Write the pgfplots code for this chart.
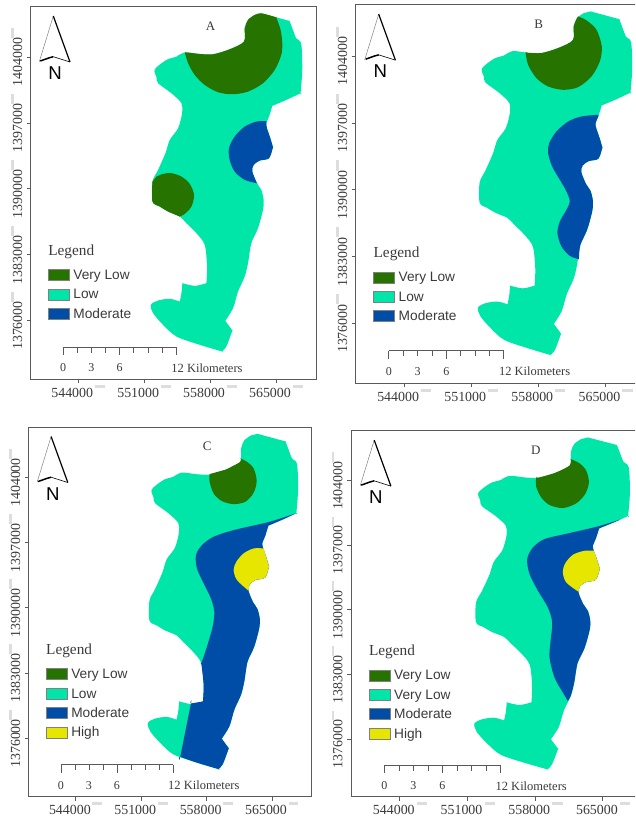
\documentclass[border=0pt]{standalone}
\usepackage{fontspec}
\setmainfont{Liberation Serif}
\newfontfamily\lsans{Liberation Sans}
\usepackage{pgfplots}
\usepackage{pgfplotstable}
\pgfplotsset{compat=1.18}
\definecolor{cVL}{HTML}{267300}
\definecolor{cLow}{HTML}{00E6A9}
\definecolor{cMod}{HTML}{004DA8}
\definecolor{cHigh}{HTML}{E6E600}
\definecolor{cTxt}{HTML}{3A3A3A}
\definecolor{cFrame}{HTML}{5A5A5A}
\definecolor{cBar}{HTML}{DDDDDD}

\pgfplotstableread{
x y
563440 1408680
565030 1408250
566450 1407860
566450 1407860
566800 1406910
567150 1406020
567680 1405420
567790 1402650
567610 1400170
567610 1400170
566090 1399460
564610 1398830
564610 1398830
564260 1397690
563970 1396980
564040 1396450
564400 1395390
564680 1394430
564680 1394430
564260 1393260
563270 1393010
562630 1392550
562490 1391840
562980 1390600
563440 1389900
563690 1388830
563620 1387770
563090 1385820
562380 1384220
562030 1382100
561680 1380680
560970 1379090
560440 1377310
559620 1375970
559620 1375970
560370 1374940
560370 1374940
559730 1373240
559270 1372710
559270 1372710
556900 1373420
554430 1374300
553010 1375540
551950 1376780
551710 1377670
552480 1378130
553720 1378310
554780 1378020
554780 1378020
554960 1378910
555060 1379970
555060 1379970
556370 1379690
557610 1379970
557610 1379970
557680 1381740
557430 1384050
556550 1385290
555490 1386350
554780 1387060
553540 1387590
552660 1388120
551880 1388650
551880 1390780
552480 1392020
553260 1393790
553720 1395210
554600 1396450
555030 1398050
554960 1399110
553900 1400170
552480 1401240
552310 1401870
552130 1402720
553370 1403720
554430 1404070
555310 1404530
556900 1404350
558320 1404320
560080 1404850
561600 1405670
561680 1407080
562030 1407970
562740 1408500
}\tOutline

% Panel A
\pgfplotstableread{
x y
555310 1404530
555670 1403360
556370 1402120
557430 1401060
558850 1400280
560440 1400070
562030 1400350
563620 1401240
564860 1402650
565560 1404250
565670 1405490
565490 1406910
565030 1408250
565030 1408250
563440 1408680
562740 1408500
562030 1407970
561680 1407080
561600 1405670
560080 1404850
558320 1404320
556900 1404350
}\tAvlOne
\pgfplotstableread{
x y
552310 1391310
553010 1391600
553900 1391670
554960 1391310
555840 1390530
556300 1389360
556020 1388120
555310 1387340
554780 1387060
554780 1387060
553540 1387590
552660 1388120
551880 1388650
551880 1390780
}\tAvlTwo
\pgfplotstableread{
x y
563970 1397200
562910 1397160
561680 1396630
560610 1395570
560010 1394330
560080 1393080
560610 1391840
561680 1390960
562980 1390600
562980 1390600
562490 1391840
562630 1392550
563270 1393010
564260 1393260
564680 1394430
564680 1394430
564400 1395390
564040 1396450
563970 1396980
}\tAmod

% Panel B
\pgfplotstableread{
x y
556660 1404420
556930 1403090
557800 1401700
559020 1400820
560590 1400470
562150 1400750
563540 1401870
564410 1403440
564620 1405010
564060 1406760
563020 1407740
562150 1408150
562150 1408150
562030 1407970
561680 1407080
561600 1405670
560080 1404850
558320 1404320
556900 1404350
}\tBvl
\pgfplotstableread{
x y
564240 1397860
562500 1397680
561110 1397160
559890 1396110
559130 1394890
559020 1393840
559440 1392440
560240 1391050
560930 1389830
561280 1388780
560930 1387910
560240 1386680
559990 1385460
560410 1384070
561280 1383090
562220 1382740
562220 1382740
562380 1384220
563090 1385820
563620 1387770
563690 1388830
563440 1389900
562980 1390600
562490 1391840
562630 1392550
563270 1393010
564260 1393260
564680 1394430
564680 1394430
564400 1395390
564040 1396450
563970 1396980
564260 1397690
}\tBmod

% Panel C
\pgfplotstableread{
x y
558320 1404360
558320 1403540
558750 1402280
559640 1401460
560890 1401140
562140 1401390
563030 1402350
563360 1403640
563030 1404970
562320 1405680
561610 1406040
561610 1406040
561600 1405670
560080 1404850
}\tCvl
\pgfplotstableread{
x y
567610 1400170
565890 1399600
564460 1399170
560890 1398350
558750 1397640
557500 1396740
556860 1395670
556960 1394240
557680 1392630
558460 1391020
558820 1389590
558640 1387980
558030 1385830
557430 1384050
557430 1384050
557680 1381740
557610 1379970
557610 1379970
556320 1379750
556320 1379750
555180 1374030
555180 1374030
556900 1373420
559270 1372710
559270 1372710
559730 1373240
560370 1374940
560370 1374940
559620 1375970
559620 1375970
560440 1377310
560970 1379090
561680 1380680
562030 1382100
562380 1384220
563090 1385820
563620 1387770
563690 1388830
563440 1389900
562980 1390600
562490 1391840
562630 1392550
563270 1393010
564260 1393260
564680 1394430
564680 1394430
564400 1395390
564040 1396450
563970 1396980
564260 1397690
564610 1398830
564610 1398830
566090 1399460
}\tCmod
\pgfplotstableread{
x y
564100 1396380
563030 1396380
561960 1395850
561180 1394950
560890 1394060
561250 1392990
562490 1391840
562490 1391840
562630 1392550
563270 1393010
564260 1393260
564680 1394430
564680 1394430
564400 1395390
}\tChigh

% Panel D
\pgfplotstableread{
x y
558100 1404360
558100 1403350
558620 1402190
559480 1401360
560860 1401030
562240 1401540
563170 1402550
563550 1403820
563270 1405090
562580 1405880
561650 1406350
561650 1406350
561600 1405670
560080 1404850
558320 1404320
}\tDvl
\pgfplotstableread{
x y
566830 1399800
564480 1399040
561380 1398280
558960 1397670
557760 1396760
557170 1395500
557410 1393870
558280 1392060
559310 1390250
559760 1388620
559590 1386630
559480 1384820
560000 1382650
560860 1381030
561380 1380120
561380 1380120
561680 1380680
562030 1382100
562380 1384220
563090 1385820
563620 1387770
563690 1388830
563440 1389900
562980 1390600
562490 1391840
562630 1392550
563270 1393010
564260 1393260
564680 1394430
564680 1394430
564400 1395390
564040 1396450
563970 1396980
564260 1397690
564610 1398830
564610 1398830
566090 1399460
}\tDmod
\pgfplotstableread{
x y
564070 1396400
563100 1396400
561900 1395970
561100 1395030
560860 1394050
561210 1392970
562480 1391950
562480 1391950
562630 1392550
563270 1393010
564260 1393260
564680 1394430
564680 1394430
564400 1395390
}\tDhigh

\newcommand\zone[2]{\addplot[fill=#1,draw=none,mark=none,forget plot,smooth,tension=0.5] table[x=x,y=y]{#2} -- cycle;}

\pgfplotsset{
  mapaxis/.style={
    scale only axis, clip=false, anchor=south west,
    xmin=538950, xmax=569250, ymin=1369750, ymax=1409380,
    xtick={544000,551000,558000,565000},
    xticklabels={544000,551000,558000,565000},
    ytick={1376000,1383000,1390000,1397000,1404000},
    yticklabels={1376000,1383000,1390000,1397000,1404000},
    scaled ticks=false,
    axis line style={draw=cFrame,line width=1pt},
    tick style={draw=cFrame,line width=.9pt},
    tick align=outside, major tick length=4pt,
    xtick pos=bottom, ytick pos=left,
    xticklabel style={font=\fontsize{13.9}{14}\selectfont,text=cTxt,xshift=-6pt,yshift=0pt},
    yticklabel style={font=\fontsize{13.9}{14}\selectfont,text=cTxt,yshift=-5pt,rotate=90,anchor=south},
    xticklabel shift=1pt, yticklabel shift=1pt,
    legend image code/.code={\draw[##1,draw=gray,line width=.6pt] (0pt,-4.5pt) rectangle (21pt,6.5pt);\path[draw=none,fill=none] (25pt,0pt) circle (0pt);},
    legend cell align=left,
    legend style={draw=none,fill=none,inner sep=0pt,outer sep=0pt,anchor=north west,
      font=\lsans\fontsize{13.7}{14}\selectfont,text=cTxt,row sep=6.1pt,
      nodes={inner sep=0pt,outer sep=0pt,text height=10pt,text depth=3pt}},
  }
}

\newcommand\decor[2]{%
  % grey bars beside the tick labels
  \draw[cBar,line width=2.7pt] ([yshift=-7pt]axis cs:545770,1369750) -- ([yshift=-7pt]axis cs:546830,1369750);
  \draw[cBar,line width=2.7pt] ([yshift=-7pt]axis cs:552770,1369750) -- ([yshift=-7pt]axis cs:553830,1369750);
  \draw[cBar,line width=2.7pt] ([yshift=-7pt]axis cs:559770,1369750) -- ([yshift=-7pt]axis cs:560830,1369750);
  \draw[cBar,line width=2.7pt] ([yshift=-7pt]axis cs:566770,1369750) -- ([yshift=-7pt]axis cs:567830,1369750);
  \draw[cBar,line width=2.7pt] ([xshift=-18pt]axis cs:538950,1378020) -- ([xshift=-18pt]axis cs:538950,1379080);
  \draw[cBar,line width=2.7pt] ([xshift=-18pt]axis cs:538950,1385020) -- ([xshift=-18pt]axis cs:538950,1386080);
  \draw[cBar,line width=2.7pt] ([xshift=-18pt]axis cs:538950,1392020) -- ([xshift=-18pt]axis cs:538950,1393080);
  \draw[cBar,line width=2.7pt] ([xshift=-18pt]axis cs:538950,1399020) -- ([xshift=-18pt]axis cs:538950,1400080);
  \draw[cBar,line width=2.7pt] ([xshift=-18pt]axis cs:538950,1406020) -- ([xshift=-18pt]axis cs:538950,1407080);
  % panel letter
  \node[font=\fontsize{13}{14}\selectfont,text=cTxt] at (axis cs:558050,1407340) {#1};
  % legend title
  \node[anchor=west,inner sep=0pt,font=\fontsize{15.3}{16}\selectfont,text=cTxt] at ([yshift=16.7pt]axis cs:540800,#2) {Legend};
  % north arrow
  \coordinate (NA) at (axis cs:541350,1408390);
  \draw[gray,line width=.5pt] (NA) -- ([shift={(-14pt,-45.7pt)}]NA);
  \draw[black,line width=1.2pt,line join=miter] (NA) -- ([shift={(16.7pt,-46pt)}]NA);
  \draw[black,line width=1.5pt] ([shift={(-13pt,-45pt)}]NA) -- ([shift={(-4pt,-41.8pt)}]NA) -- ([shift={(0pt,-40.7pt)}]NA);
  \draw[black,line width=.6pt] ([shift={(0pt,-40.7pt)}]NA) -- ([shift={(16.7pt,-46pt)}]NA);
  \node[font=\lsans\fontsize{18.6}{19}\selectfont,text=black,inner sep=0pt] at ([shift={(1.7pt,-57.3pt)}]NA) {N};
  % scale bar
  \draw[cFrame,line width=.7pt] (axis cs:542400,1373170) -- (axis cs:554400,1373170);
  \pgfplotsinvokeforeach{542400,548400,554400}{\draw[cFrame,line width=.7pt] (axis cs:##1,1373170) -- ([yshift=-8pt]axis cs:##1,1373170);}
  \pgfplotsinvokeforeach{543900,545400,546900,549900,551400,552900}{\draw[cFrame,line width=.7pt] (axis cs:##1,1373170) -- ([yshift=-5.5pt]axis cs:##1,1373170);}
  \node[font=\fontsize{12}{13}\selectfont,text=cTxt,inner sep=0pt] at ([yshift=-20.7pt]axis cs:542400,1373170) {0};
  \node[font=\fontsize{12}{13}\selectfont,text=cTxt,inner sep=0pt] at ([yshift=-20.7pt]axis cs:545400,1373170) {3};
  \node[font=\fontsize{12}{13}\selectfont,text=cTxt,inner sep=0pt] at ([yshift=-20.7pt]axis cs:548400,1373170) {6};
  \node[anchor=west,font=\fontsize{12.5}{13}\selectfont,text=cTxt,inner sep=0pt] at ([shift={(-5pt,-20.7pt)}]axis cs:554400,1373170) {12 Kilometers};
}

\begin{document}
\begin{tikzpicture}
\path[use as bounding box,clip] (0pt,0pt) rectangle (635pt,817pt);

% ---------- A
\begin{axis}[mapaxis,at={(30.7pt,437.7pt)},width=285.3pt,height=372.6pt,
  legend style={at={(axis cs:540800,1381450)}}]
\addlegendimage{fill=cVL}\addlegendentry{Very Low}
\addlegendimage{fill=cLow}\addlegendentry{Low}
\addlegendimage{fill=cMod}\addlegendentry{Moderate}
\zone{cLow}{\tOutline}
\zone{cVL}{\tAvlOne}
\zone{cVL}{\tAvlTwo}
\zone{cMod}{\tAmod}
\decor{A}{1381550}
\end{axis}

% ---------- B
\begin{axis}[mapaxis,at={(355.7pt,433.7pt)},width=290.5pt,height=378.6pt,
  legend style={at={(axis cs:540800,1381450)}}]
\addlegendimage{fill=cVL}\addlegendentry{Very Low}
\addlegendimage{fill=cLow}\addlegendentry{Low}
\addlegendimage{fill=cMod}\addlegendentry{Moderate}
\zone{cLow}{\tOutline}
\zone{cVL}{\tBvl}
\zone{cMod}{\tBmod}
\decor{B}{1381550}
\end{axis}

% ---------- C
\begin{axis}[mapaxis,at={(28.7pt,20.3pt)},width=283pt,height=369.4pt,
  legend style={at={(axis cs:540800,1383520)}}]
\addlegendimage{fill=cVL}\addlegendentry{Very Low}
\addlegendimage{fill=cLow}\addlegendentry{Low}
\addlegendimage{fill=cMod}\addlegendentry{Moderate}
\addlegendimage{fill=cHigh}\addlegendentry{High}
\zone{cLow}{\tOutline}
\zone{cVL}{\tCvl}
\zone{cMod}{\tCmod}
\zone{cHigh}{\tChigh}
\decor{C}{1383620}
\end{axis}

% ---------- D
\begin{axis}[mapaxis,at={(351pt,20.3pt)},width=293pt,height=365.7pt,
  legend style={at={(axis cs:540800,1383520)}}]
\addlegendimage{fill=cVL}\addlegendentry{Very Low}
\addlegendimage{fill=cLow}\addlegendentry{Very Low}
\addlegendimage{fill=cMod}\addlegendentry{Moderate}
\addlegendimage{fill=cHigh}\addlegendentry{High}
\zone{cLow}{\tOutline}
\zone{cVL}{\tDvl}
\zone{cMod}{\tDmod}
\zone{cHigh}{\tDhigh}
\decor{D}{1383620}
\end{axis}
\end{tikzpicture}
\end{document}
